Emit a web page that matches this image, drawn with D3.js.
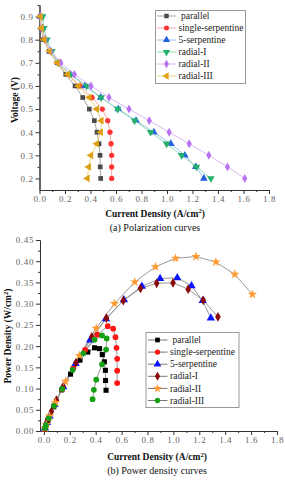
<!DOCTYPE html>
<html><head><meta charset="utf-8">
<script src="https://cdn.jsdelivr.net/npm/d3@7"></script>
<style>
html,body{margin:0;padding:0;background:#fff;}
svg{display:block;}
text{font-family:"Liberation Serif","Times New Roman",serif;}
</style></head>
<body>
<script>
// ---------- data ----------
const seriesNames = ["parallel","single-serpentine","5-serpentine","radial-I","radial-II","radial-III"];
const voltage = [0.9,0.85,0.8,0.75,0.7,0.65,0.6,0.55,0.5,0.45,0.4,0.35,0.3,0.25,0.2];
// current density (A/cm2) per series
const curParallel   = [0.005,0.013,0.031,0.076,0.138,0.206,0.279,0.339,0.391,0.430,0.451,0.467,0.475,0.476,0.480];
const curSingle     = [0.006,0.015,0.036,0.080,0.140,0.227,0.318,0.412,0.493,0.535,0.553,0.561,0.566,0.566,0.566];
const curFive       = [0.008,0.023,0.044,0.083,0.149,0.245,0.357,0.480,0.618,0.757,0.897,1.030,1.140,1.226,1.289];
const curRadialI    = [0.025,0.034,0.058,0.097,0.149,0.248,0.370,0.483,0.613,0.746,0.871,0.997,1.114,1.231,1.344];
const curRadialII   = [0.008,0.018,0.044,0.089,0.167,0.274,0.404,0.545,0.702,0.861,1.017,1.174,1.328,1.474,1.610];
const curRadialIII  = [0.008,0.016,0.037,0.078,0.141,0.222,0.305,0.391,0.449,0.485,0.480,0.449,0.404,0.386,0.376];
// power density (W/cm2) per series
const powParallel   = [0.005,0.011,0.025,0.057,0.097,0.134,0.167,0.186,0.196,0.194,0.180,0.163,0.143,0.119,0.096];
const powSingle     = [0.005,0.013,0.029,0.060,0.098,0.148,0.191,0.227,0.247,0.241,0.221,0.196,0.170,0.142,0.113];
const powFive       = [0.007,0.020,0.035,0.062,0.104,0.159,0.214,0.264,0.309,0.341,0.359,0.361,0.342,0.307,0.266];
const powRadialI    = [0.022,0.029,0.046,0.073,0.104,0.161,0.222,0.266,0.307,0.336,0.348,0.349,0.334,0.308,0.269];
const powRadialII   = [0.007,0.015,0.035,0.067,0.117,0.178,0.242,0.300,0.351,0.387,0.407,0.411,0.398,0.369,0.322];
const powRadialIII  = [0.007,0.014,0.030,0.059,0.099,0.144,0.183,0.215,0.225,0.218,0.192,0.157,0.121,0.097,0.075];
const xTicks = [0,0.2,0.4,0.6,0.8,1.0,1.2,1.4,1.6,1.8];
const vTicks = [0.2,0.3,0.4,0.5,0.6,0.7,0.8,0.9];
const pTicks = [0,0.05,0.10,0.15,0.20,0.25,0.30,0.35,0.40,0.45];

const currents = [curParallel,curSingle,curFive,curRadialI,curRadialII,curRadialIII];
const powers = [powParallel,powSingle,powFive,powRadialI,powRadialII,powRadialIII];

// ---------- styles ----------
const topMarker = ["#4a4a4a","#ff3535","#1f5fe0","#22b06c","#b872f2","#dea012"];
const topLine   = ["#a8a8a8","#f7a8a8","#9cc0f2","#92dcb4","#dcb6f4","#f0d488"];
const topShape  = ["square","circle","up","down","diamond","left"];
const botMarker = ["#000000","#ff1414","#0a14ff","#8a0a0a","#ff9a30","#16a016"];
const botShape  = ["square","circle","up","diamond","star","circle"];

const W=285,H=480;
const svg = d3.select("body").append("svg").attr("width",W).attr("height",H);

function shapePath(kind,size){
  const m = {square:d3.symbolSquare,circle:d3.symbolCircle,up:d3.symbolTriangle,down:d3.symbolTriangle,
             diamond:d3.symbolDiamond,left:d3.symbolTriangle,star:d3.symbolStar};
  return d3.symbol().type(m[kind]).size(size)();
}
function shapeRot(kind){ return kind==="down"?180:(kind==="left"?-90:0); }
function sizeFor(kind,base){ 
  if(kind==="up"||kind==="down"||kind==="left") return base*1.15;
  if(kind==="diamond") return base*1.05;
  if(kind==="star") return base*1.1;
  return base;
}
function drawMarker(g,kind,x,y,color,base){
  g.append("path").attr("d",shapePath(kind,sizeFor(kind,base)))
   .attr("transform",`translate(${x},${y}) rotate(${shapeRot(kind)})`)
   .attr("fill",color).attr("stroke","none");
}

function drawAxes(g,x,y,xMajor,xMinor,yMajor,yMinor,yFmt,x0,y0){
  const axisColor="#333", labelColor="#666";
  const xa = g.append("g").attr("transform",`translate(0,${y0})`)
    .call(d3.axisBottom(x).tickValues(xMajor).tickSize(4).tickSizeOuter(0).tickFormat(d3.format(".1f")));
  const xm = g.append("g").attr("transform",`translate(0,${y0})`)
    .call(d3.axisBottom(x).tickValues(xMinor).tickSize(2).tickSizeOuter(0).tickFormat(""));
  const ya = g.append("g").attr("transform",`translate(${x0},0)`)
    .call(d3.axisLeft(y).tickValues(yMajor).tickSize(4).tickSizeOuter(0).tickFormat(d3.format(yFmt)));
  const ym = g.append("g").attr("transform",`translate(${x0},0)`)
    .call(d3.axisLeft(y).tickValues(yMinor).tickSize(2).tickSizeOuter(0).tickFormat(""));
  [xa,xm,ya,ym].forEach(a=>{
    a.select(".domain").attr("stroke",axisColor).attr("stroke-width",1);
    a.selectAll(".tick line").attr("stroke",axisColor);
    a.selectAll("text").attr("fill",labelColor).style("font-size","9px")
      .style("font-family",'"Liberation Serif",serif').style("letter-spacing","0.6px");
  });
  xa.selectAll("text").attr("dy","0.9em").attr("y",4);
  ya.selectAll("text").attr("x",-6);
}

// ================= TOP: Polarization =================
{
  const g = svg.append("g");
  const x = d3.scaleLinear().domain([0,1.8]).range([39.5,269]);
  const y = d3.scaleLinear().domain([0.15,0.95]).range([190,5]);
  const xMinor = d3.range(0.1,1.8,0.2);
  const yMinor = [0.25,0.35,0.45,0.55,0.65,0.75,0.85,0.95];
  drawAxes(g,x,y,xTicks,xMinor,vTicks,yMinor,".1f",39.5,190);

  currents.forEach((cur,si)=>{
    const pts = voltage.map((v,i)=>[x(cur[i]),y(v)]);
    g.append("path").attr("d",d3.line()(pts)).attr("fill","none")
      .attr("stroke",topLine[si]).attr("stroke-width",1);
    pts.forEach(p=>drawMarker(g,topShape[si],p[0],p[1],topMarker[si],22));
  });

  // legend
  const lg = g.append("g");
  lg.append("rect").attr("x",155.5).attr("y",10.5).attr("width",90).attr("height",73)
    .attr("fill","#fff").attr("stroke","#999").attr("stroke-width",1);
  seriesNames.forEach((n,i)=>{
    const yy = 16+i*12;
    lg.append("line").attr("x1",157).attr("x2",176).attr("y1",yy).attr("y2",yy)
      .attr("stroke",topLine[i]).attr("stroke-width",1);
    drawMarker(lg,topShape[i],166.5,yy,topMarker[i],20);
    lg.append("text").attr("x",i===0?181:178.5).attr("y",yy).attr("dy","0.33em")
      .attr("fill","#222").style("font-size","9.5px").text(n);
  });

  g.append("text").attr("x",155).attr("y",216.5).attr("text-anchor","middle")
    .attr("fill","#111").style("font-size","9.5px").style("font-weight","bold")
    .html('Current Density (A/cm<tspan dy="-3.5" style="font-size:6.5px">2</tspan><tspan dy="3.5">)</tspan>');
  g.append("text").attr("transform","translate(17.5,100) rotate(-90)").attr("text-anchor","middle")
    .attr("fill","#111").style("font-size","9.5px").style("font-weight","bold").text("Voltage (V)");
  g.append("text").attr("x",155).attr("y",231).attr("text-anchor","middle")
    .attr("fill","#111").style("font-size","10px").text("(a) Polarization curves");
}

// ================= BOTTOM: Power density =================
{
  const g = svg.append("g");
  const x = d3.scaleLinear().domain([-0.03,1.8]).range([40,277]);
  const y = d3.scaleLinear().domain([0,0.45]).range([431,240]);
  const xMinor = d3.range(0.1,1.8,0.2);
  const yMinor = d3.range(0.025,0.45,0.05);
  drawAxes(g,x,y,xTicks,xMinor,pTicks,yMinor,".2f",40,431);

  powers.forEach((pw,si)=>{
    const pts = currents[si].map((c,i)=>[x(c),y(pw[i])]);
    g.append("path").attr("d",d3.line()(pts)).attr("fill","none")
      .attr("stroke","#9a9a9a").attr("stroke-width",1);
  });
  powers.forEach((pw,si)=>{
    currents[si].forEach((c,i)=>drawMarker(g,botShape[si],x(c),y(pw[i]),botMarker[si],26));
  });

  const lg = g.append("g");
  lg.append("rect").attr("x",146).attr("y",332.5).attr("width",93).attr("height",75)
    .attr("fill","#fff").attr("stroke","#999").attr("stroke-width",1);
  seriesNames.forEach((n,i)=>{
    const yy = 340+i*12.1;
    lg.append("line").attr("x1",148).attr("x2",167.5).attr("y1",yy).attr("y2",yy)
      .attr("stroke","#777").attr("stroke-width",1);
    drawMarker(lg,botShape[i],157.5,yy,botMarker[i],22);
    lg.append("text").attr("x",i===0?172.5:170).attr("y",yy).attr("dy","0.33em")
      .attr("fill","#222").style("font-size","9.5px").text(n);
  });

  g.append("text").attr("x",157).attr("y",460).attr("text-anchor","middle")
    .attr("fill","#111").style("font-size","9.5px").style("font-weight","bold")
    .html('Current Density (A/cm<tspan dy="-3.5" style="font-size:6.5px">2</tspan><tspan dy="3.5">)</tspan>');
  g.append("text").attr("transform","translate(11,336) rotate(-90)").attr("text-anchor","middle")
    .attr("fill","#111").style("font-size","9.5px").style("font-weight","bold")
    .html('Power Density (W/cm<tspan dy="-3.5" style="font-size:6.5px">2</tspan><tspan dy="3.5">)</tspan>');
  g.append("text").attr("x",157).attr("y",474).attr("text-anchor","middle")
    .attr("fill","#111").style("font-size","10px").text("(b) Power density curves");
}
</script>
</body></html>
